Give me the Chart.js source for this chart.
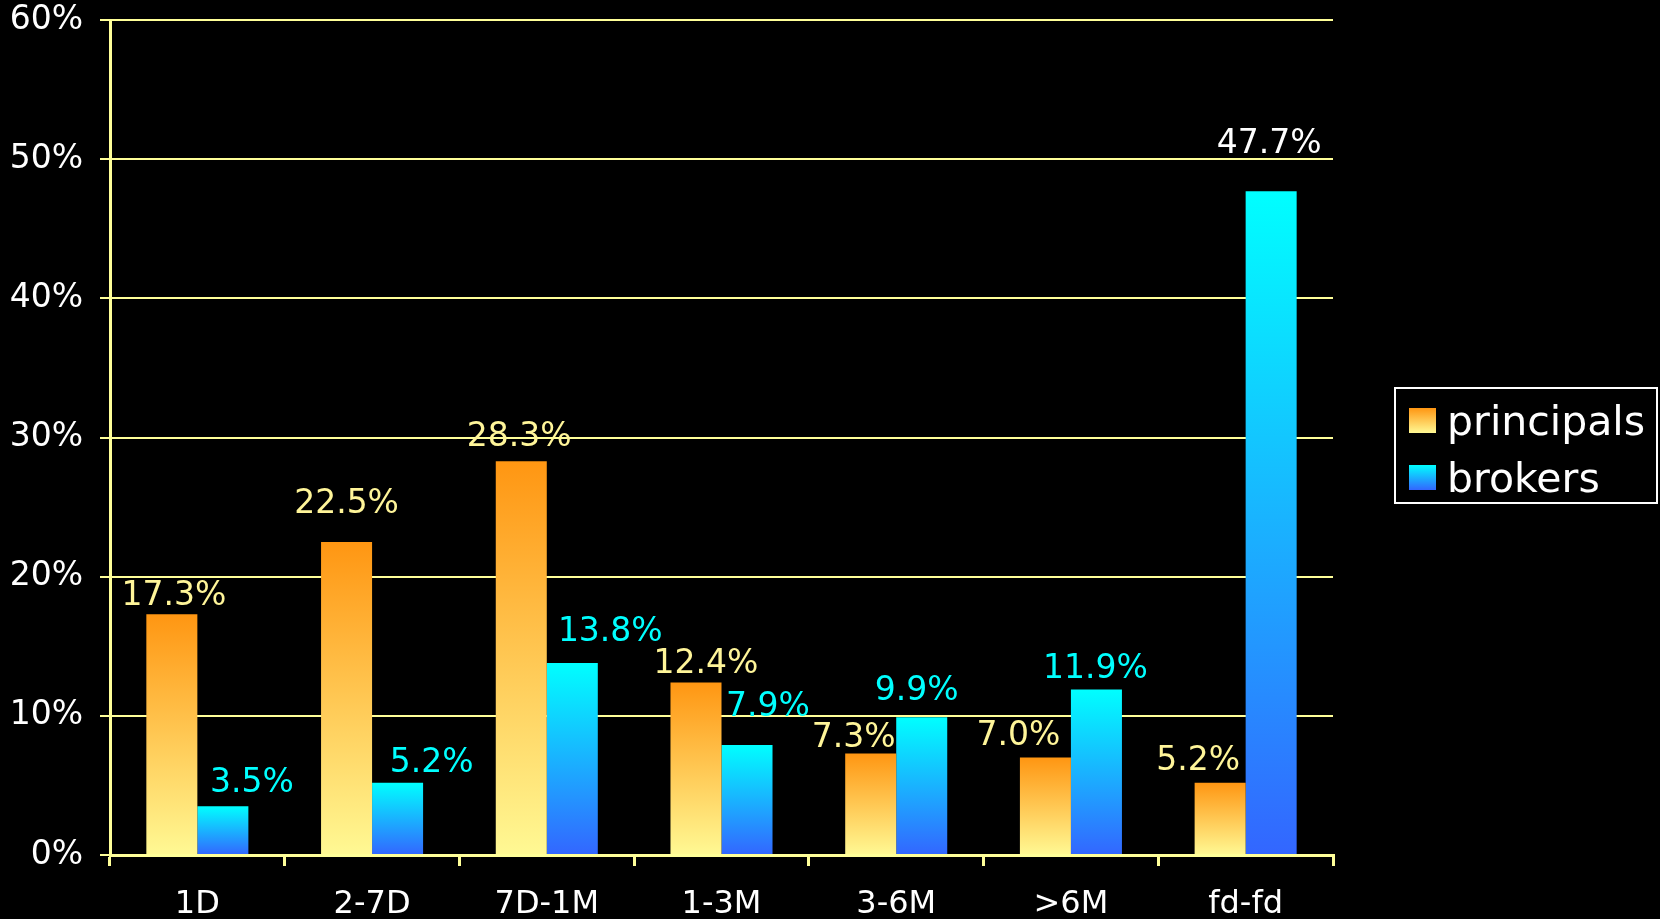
<!DOCTYPE html>
<html>
<head>
<meta charset="utf-8">
<script src="https://cdn.jsdelivr.net/npm/chart.js@4.4.0/dist/chart.umd.min.js"></script>
<style>
  html, body { margin: 0; padding: 0; background: #000; }
  #wrap { width: 1660px; height: 919px; position: relative; }
</style>
</head>
<body>
<div id="wrap"><canvas id="chart"></canvas></div>
<script>
// data
const categories = ['1D', '2-7D', '7D-1M', '1-3M', '3-6M', '>6M', 'fd-fd'];
const principals = [17.3, 22.5, 28.3, 12.4, 7.3, 7.0, 5.2];
const brokers = [3.5, 5.2, 13.8, 7.9, 9.9, 11.9, 47.7];
const yTicks = [0, 10, 20, 30, 40, 50, 60];

// the value labels were hand placed in the original, so nudge them (px)
const principalsNudge = [[2,-18],[0,-37],[-2,-24],[10,-18],[-17,-15],[-27,-21],[-22,-21]];
const brokersNudge = [[29,-23],[34,-19],[38,-31],[21,-38],[-5,-26],[-1,-20],[-2,-47]];

const FONT = "'DejaVu Sans', Verdana, sans-serif";
const gridColor = '#ffff99';
const principalsGrad = ['#ff9612', '#fff994'];
const brokersGrad = ['#00ffff', '#3366ff'];

Chart.defaults.font.family = FONT;

function barGradient(ctx, colors){
  const chart = ctx.chart;
  if(!chart.chartArea || ctx.dataIndex === undefined) return colors[0];
  const y = chart.scales.y;
  const v = ctx.dataset.data[ctx.dataIndex];
  const top = y.getPixelForValue(v);
  const bottom = y.getPixelForValue(0);
  const g = chart.ctx.createLinearGradient(0, top, 0, bottom);
  g.addColorStop(0, colors[0]);
  g.addColorStop(1, colors[1]);
  return g;
}

// value labels above bars
const valueLabels = {
  id: 'valueLabels',
  afterDatasetsDraw(chart){
    const c = chart.ctx;
    c.save();
    c.font = '33px ' + FONT;
    c.textAlign = 'center';
    c.textBaseline = 'middle';
    chart.data.datasets.forEach((ds, di) => {
      const meta = chart.getDatasetMeta(di);
      meta.data.forEach((bar, i) => {
        const n = ds.nudge[i];
        c.fillStyle = (ds.labelColors && ds.labelColors[i]) || ds.labelColor;
        c.fillText(ds.data[i].toFixed(1) + '%', bar.x + n[0], bar.y + n[1]);
      });
    });
    c.restore();
  }
};

// boxed legend on the right
const boxLegend = {
  id: 'boxLegend',
  afterDraw(chart){
    const c = chart.ctx;
    const x = 1395, y = 388, w = 262, h = 115;
    c.save();
    c.strokeStyle = '#ffffff';
    c.lineWidth = 2;
    c.strokeRect(x, y, w, h);
    c.font = '41px ' + FONT;
    c.textBaseline = 'alphabetic';
    c.textAlign = 'left';
    chart.data.datasets.forEach((ds, i) => {
      const sy = y + 20 + i * 57;
      const g = c.createLinearGradient(0, sy, 0, sy + 25);
      g.addColorStop(0, ds.grad[0]);
      g.addColorStop(1, ds.grad[1]);
      c.fillStyle = g;
      c.fillRect(x + 14, sy, 27, 25);
      c.fillStyle = '#ffffff';
      c.fillText(ds.label, x + 52, sy + 27);
    });
    c.restore();
  }
};

new Chart(document.getElementById('chart'), {
  type: 'bar',
  data: {
    labels: categories,
    datasets: [
      {
        label: 'principals',
        data: principals,
        grad: principalsGrad,
        nudge: principalsNudge,
        labelColor: '#fff599',
        backgroundColor: ctx => barGradient(ctx, principalsGrad),
        categoryPercentage: 0.584,
        barPercentage: 1.0
      },
      {
        label: 'brokers',
        data: brokers,
        grad: brokersGrad,
        nudge: brokersNudge,
        labelColor: '#00ffff',
        labelColors: [null, null, null, null, null, null, '#ffffff'],
        backgroundColor: ctx => barGradient(ctx, brokersGrad),
        categoryPercentage: 0.584,
        barPercentage: 1.0
      }
    ]
  },
  options: {
    responsive: true,
    maintainAspectRatio: false,
    animation: false,
    layout: { autoPadding: false, padding: { left: 0, right: 327, top: 20, bottom: 0 } },
    plugins: {
      legend: { display: false },
      tooltip: { enabled: false }
    },
    scales: {
      x: {
        offset: true,
        grid: { drawOnChartArea: false, color: gridColor, lineWidth: 3, tickLength: 11, offset: true },
        border: { color: gridColor, width: 3 },
        ticks: { color: '#ffffff', font: { size: 32 }, padding: 19 },
        afterFit: scale => { scale.height = 64; scale.paddingLeft = 0; scale.paddingRight = 0; }
      },
      y: {
        min: 0,
        max: 60,
        afterBuildTicks: scale => { scale.ticks = yTicks.map(v => ({ value: v })); },
        afterFit: scale => { scale.width = 110; scale.paddingTop = 0; scale.paddingBottom = 0; },
        ticks: { color: '#ffffff', font: { size: 33 }, padding: 17, callback: v => v + '%' },
        grid: { color: gridColor, lineWidth: 2, tickLength: 10 },
        border: { color: gridColor, width: 3 }
      }
    }
  },
  plugins: [valueLabels, boxLegend]
});
</script>
</body>
</html>
